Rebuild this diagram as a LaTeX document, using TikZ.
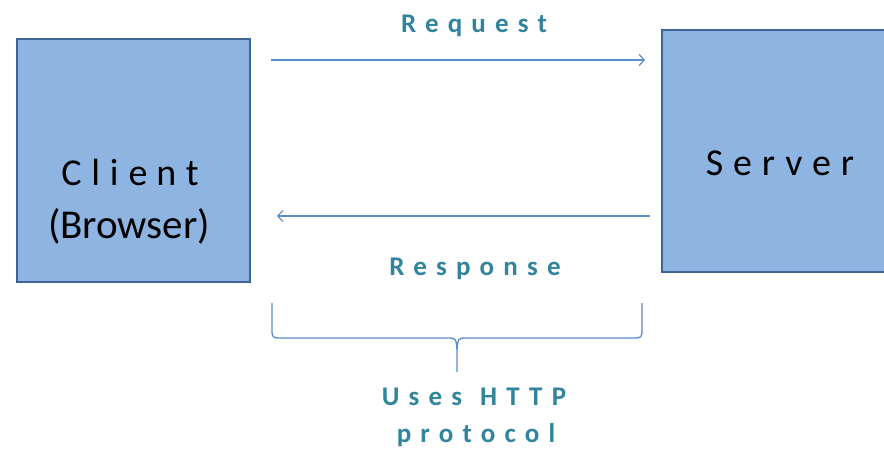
\documentclass[tikz,border=0pt]{standalone}
\usepackage{fontspec}
\setmainfont{Carlito}
\newfontfamily\boxfont[LetterSpace=26]{Carlito}
\newfontfamily\tagfont[LetterSpace=34]{Carlito}
\usetikzlibrary{arrows.meta}
\definecolor{boxfill}{HTML}{8EB4E1}
\definecolor{boxedge}{HTML}{3E6494}
\definecolor{linkblue}{HTML}{5B8CCB}
\definecolor{tagteal}{HTML}{31849B}
\tikzset{
  box/.style={draw=boxedge, line width=2.4pt, fill=boxfill},
  link/.style={draw=linkblue, line width=1.4pt, -{Straight Barb[length=5pt,width=11pt,line width=1.2pt]}},
  tag/.style={text=tagteal, font=\tagfont\bfseries\fontsize{27}{29}\selectfont, anchor=base, inner sep=0pt},
  boxtext/.style={font=\boxfont\fontsize{38}{40}\selectfont, anchor=base, inner sep=0pt},
}
\begin{document}
\begin{tikzpicture}[x=1pt,y=-1pt]
  \useasboundingbox (0,0) rectangle (884,448);
  \clip (0,0) rectangle (884,448);
  % the two endpoints
  \draw[box] (17,39) rectangle (250,282);
  \draw[box] (662,30) rectangle (900,272);
  \node[boxtext] (client) at (130,185) {Clie\kern9pt nt};
  \node[anchor=base, inner sep=0pt, font=\fontsize{41}{43}\selectfont] (browser) at (129,238) {(Browser)};
  \node[boxtext] (server) at (780,175) {Server};
  % messages
  \coordinate (reqA) at (271,60);
  \coordinate (reqB) at (645,60);
  \coordinate (resA) at (650,216);
  \coordinate (resB) at (277,216);
  \draw[link] (reqA) -- (reqB);
  \draw[link] (resA) -- (resB);
  \node[tag] (request) at (474,32) {Request};
  \node[tag] (response) at (475,275) {Response};
  % brace under the exchange
  \coordinate (bl) at (272,303);
  \coordinate (br) at (642,303);
  \coordinate (tip) at (457,372);
  \draw[linkblue, line width=1.3pt, line join=round]
    (bl) -- (272,328) .. controls (272,338) .. (282,338)
    -- (447,338) .. controls (456,338) .. (457,350) -- (tip)
    (457,350) .. controls (458,338) .. (467,338)
    -- (632,338) .. controls (642,338) .. (642,328) -- (br);
  \node[tag] (uses) at (474,405) {Uses\kern18pt HTTP};
  \node[tag] (proto) at (476,442) {protocol};
\end{tikzpicture}
\end{document}
